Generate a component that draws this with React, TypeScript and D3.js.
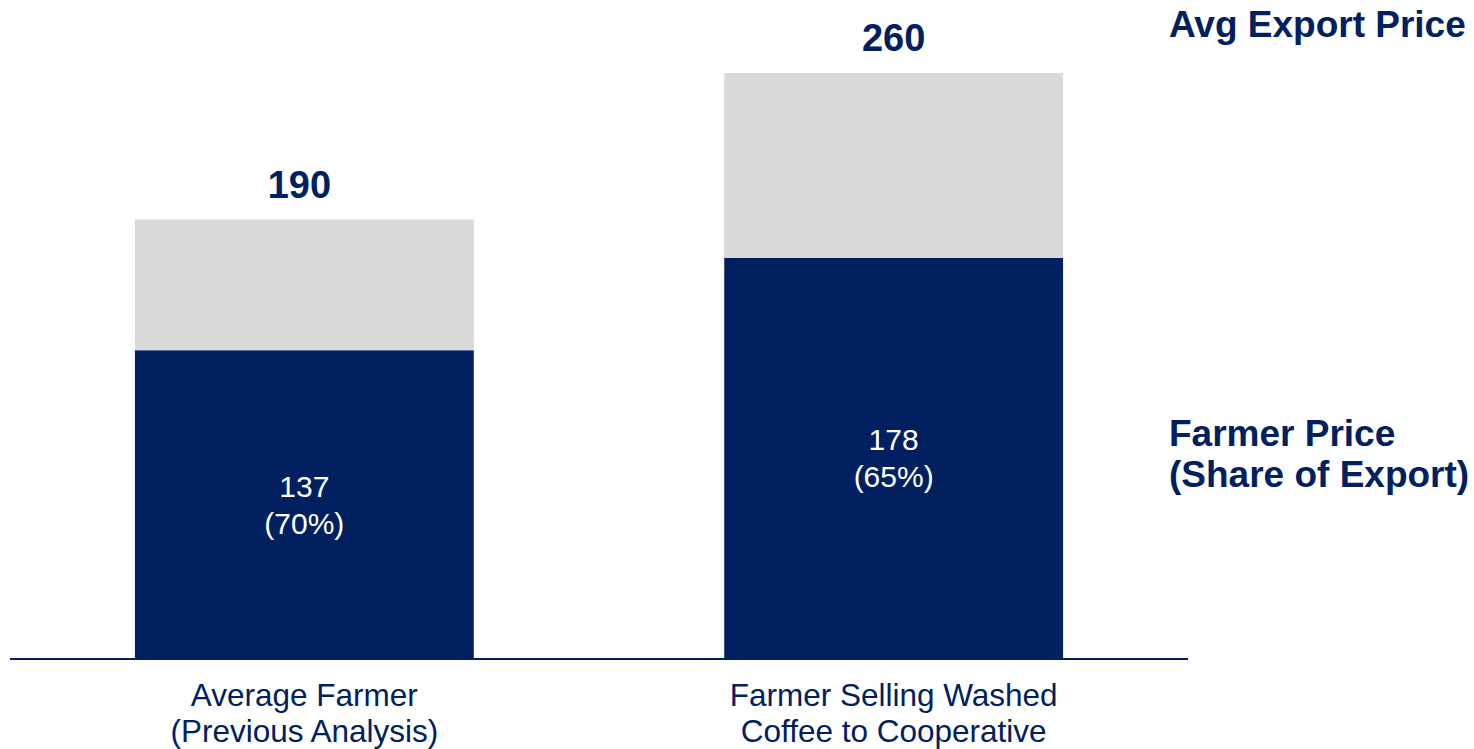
import React from "react";
import * as d3 from "d3";

const categories = ["Average Farmer|(Previous Analysis)", "Farmer Selling Washed|Coffee to Cooperative"];
const farmerPrice = [137, 178];
const exportPriceDrawn = [195, 260];
const exportLabels = ["190", "260"];
const farmerLabels = ["137", "178"];
const shareLabels = ["(70%)", "(65%)"];
const legendTop = ["Avg Export Price"];
const legendBottom = ["Farmer Price", "(Share of Export)"];

const NAVY = "#002060";
const GRAY = "#d9d9d9";
const FONT = "'Liberation Sans', Arial, Helvetica, sans-serif";

export default function App() {
  const W = 1474;
  const H = 749;
  const x = d3.scaleBand<string>().domain(categories).range([10, 1188]).paddingInner(0.425).paddingOuter(0.212);
  const y = d3.scaleLinear().domain([0, 260]).range([659, 73]);
  const rows = categories.map((c, i) => ({ cat: c, farmer: farmerPrice[i], rest: exportPriceDrawn[i] - farmerPrice[i] }));
  const stack = d3.stack<any>().keys(["farmer", "rest"])(rows);
  const fills = [NAVY, GRAY];
  const [x0, x1] = x.range();

  return (
    <div style={{ position: "absolute", left: 0, top: 0 }}>
      <svg width={W} height={H} style={{ display: "block" }} fontFamily={FONT}>
        <rect width={W} height={H} fill="#fff" />
        {stack.map((s, si) =>
          s.map((d, i) => (
            <rect
              key={`${si}-${i}`}
              x={x(rows[i].cat)}
              width={x.bandwidth()}
              y={y(d[1])}
              height={y(d[0]) - y(d[1])}
              fill={fills[si]}
            />
          ))
        )}
        <line x1={x0} x2={x1} y1={y(0)} y2={y(0)} stroke={NAVY} strokeWidth={2} />
        {rows.map((r, i) => {
          const cx = (x(r.cat) as number) + x.bandwidth() / 2;
          const mid = (y(0) + y(farmerPrice[i])) / 2;
          const lines = r.cat.split("|");
          return (
            <g key={i}>
              <text x={cx - (i === 0 ? 5 : 0)} y={y(exportPriceDrawn[i]) - 22} textAnchor="middle" fontWeight="bold" fontSize={38} fill={NAVY}>
                {exportLabels[i]}
              </text>
              <text x={cx} y={mid - 8} textAnchor="middle" fontSize={30} fill="#fff">
                {farmerLabels[i]}
              </text>
              <text x={cx} y={mid + 29} textAnchor="middle" fontSize={30} fill="#fff">
                {shareLabels[i]}
              </text>
              {lines.map((l, li) => (
                <text key={li} x={cx} y={y(0) + 47 + li * 36} textAnchor="middle" fontSize={31.5} fill={NAVY}>
                  {l}
                </text>
              ))}
            </g>
          );
        })}
        <text x={1169} y={37} fontWeight="bold" fontSize={37} fill={NAVY}>
          {legendTop[0]}
        </text>
        {legendBottom.map((l, i) => (
          <text key={i} x={1169} y={446 + i * 41} fontWeight="bold" fontSize={37} fill={NAVY}>
            {l}
          </text>
        ))}
      </svg>
    </div>
  );
}
